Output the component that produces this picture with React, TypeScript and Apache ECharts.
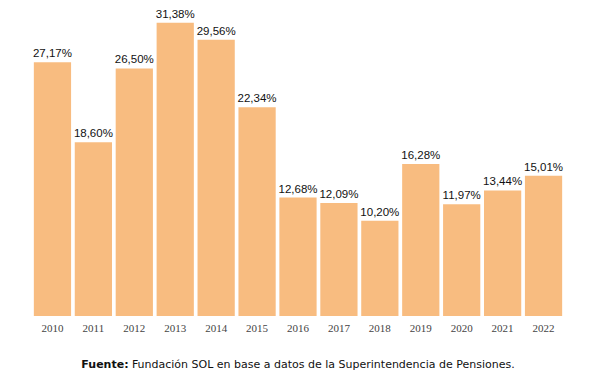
import React, { useEffect, useRef } from "react";
import * as echarts from "echarts";

const years = ["2010", "2011", "2012", "2013", "2014", "2015", "2016", "2017", "2018", "2019", "2020", "2021", "2022"];
const values = [27.17, 18.6, 26.5, 31.38, 29.56, 22.34, 12.68, 12.09, 10.2, 16.28, 11.97, 13.44, 15.01];

export default function App() {
  const ref = useRef<HTMLDivElement>(null);
  useEffect(() => {
    const chart = echarts.init(ref.current!, null, { renderer: "svg" });
    chart.setOption({
      animation: false,
      backgroundColor: "#ffffff",
      grid: { left: 32, right: 32, top: 17, bottom: 68 },
      xAxis: {
        type: "category",
        data: years,
        axisLine: { show: false },
        axisTick: { show: false },
        axisLabel: { fontFamily: "Liberation Serif", fontSize: 11, color: "#444", margin: 6 },
      },
      yAxis: { type: "value", min: 0, max: 32, show: false, splitLine: { show: false } },
      series: [
        {
          type: "bar",
          data: values,
          barCategoryGap: "9%",
          itemStyle: { color: "#F8BC80" },
          label: {
            show: true,
            position: "top",
            distance: 3,
            fontFamily: "Liberation Sans",
            fontSize: 11.5,
            color: "#111",
            formatter: (p: any) => p.value.toFixed(2).replace(".", ",") + "%",
          },
        },
      ],
      graphic: [
        {
          type: "text",
          left: "center",
          top: 358,
          style: {
            rich: {
              b: { fontFamily: "DejaVu Sans", fontSize: 11, fontWeight: "bold", fill: "#111" },
              n: { fontFamily: "DejaVu Sans", fontSize: 11, fill: "#111" },
            },
            text: "{b|Fuente:} {n|Fundación SOL en base a datos de la Superintendencia de Pensiones.}",
          },
        },
      ],
    });
    return () => chart.dispose();
  }, []);
  return <div ref={ref} style={{ position: "fixed", left: 0, top: 0, width: 596, height: 384 }} />;
}
